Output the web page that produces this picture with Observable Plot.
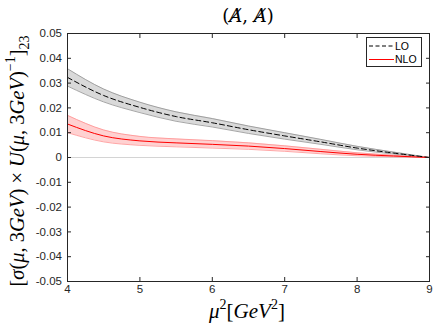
<!DOCTYPE html>
<html>
<head>
<meta charset="utf-8">
<script src="https://cdn.jsdelivr.net/npm/d3@7"></script>
<script src="https://cdn.jsdelivr.net/npm/@observablehq/plot@0.6"></script>
<style>
  html, body { margin: 0; padding: 0; background: #fff; }
  #chart { width: 436px; height: 327px; }
</style>
</head>
<body>
<div id="chart"></div>
<script>
// ---- data ----
const mu2    = [4, 4.5, 5, 5.5, 6, 6.5, 7, 7.5, 8, 8.5, 9];
const lo     = [0.0323, 0.0250, 0.0202, 0.0165, 0.0140, 0.0112, 0.0087, 0.0063, 0.0038, 0.0018, 0];
const loErr  = [0.0035, 0.0026, 0.0021, 0.0019, 0.0017, 0.0015, 0.0013, 0.0010, 0.0007, 0.0004, 0];
const nlo    = [0.0135, 0.0087, 0.0067, 0.0059, 0.0053, 0.0046, 0.0036, 0.0024, 0.0013, 0.0006, 0];
const nloErr = [0.0035, 0.0024, 0.0018, 0.0016, 0.0015, 0.0013, 0.0011, 0.0009, 0.0006, 0.0003, 0];
const xTicks = [4, 5, 6, 7, 8, 9];
const xTickLabels = ["4", "5", "6", "7", "8", "9"];
const yTicks = [-0.05, -0.04, -0.03, -0.02, -0.01, 0, 0.01, 0.02, 0.03, 0.04, 0.05];
const yTickLabels = ["-0.05", "-0.04", "-0.03", "-0.02", "-0.01", "0", "0.01", "0.02", "0.03", "0.04", "0.05"];
const legendLabels = ["LO", "NLO"];

const rows = mu2.map((x, i) => ({
  x,
  lo: lo[i], loLo: lo[i] - loErr[i], loHi: lo[i] + loErr[i],
  nlo: nlo[i], nloLo: nlo[i] - nloErr[i], nloHi: nlo[i] + nloErr[i]
}));

const curve = "monotone-x";
const yFmt = d => yTickLabels[yTicks.findIndex(t => Math.abs(t - d) < 1e-9)];
const xFmt = d => xTickLabels[xTicks.findIndex(t => Math.abs(t - d) < 1e-9)];

const svg = Plot.plot({
  width: 436,
  height: 327,
  marginLeft: 67,
  marginRight: 7,
  marginTop: 33,
  marginBottom: 46,
  x: { domain: [4, 9] },
  y: { domain: [-0.05, 0.05] },
  style: { fontFamily: "'Liberation Sans', Arial, sans-serif", fontSize: "11.5px", color: "#262626", background: "#fff" },
  marks: [
    Plot.ruleY([0], { stroke: "#d4d4d4", strokeWidth: 1 }),
    Plot.areaY(rows, { x: "x", y1: "loLo", y2: "loHi", fill: "#d9d9d9", curve }),
    Plot.lineY(rows, { x: "x", y: "loLo", stroke: "#8f8f8f", strokeWidth: 0.8, curve }),
    Plot.lineY(rows, { x: "x", y: "loHi", stroke: "#8f8f8f", strokeWidth: 0.8, curve }),
    Plot.areaY(rows, { x: "x", y1: "nloLo", y2: "nloHi", fill: "#ffd1d1", curve }),
    Plot.lineY(rows, { x: "x", y: "nloLo", stroke: "#ff8f8f", strokeWidth: 0.8, curve }),
    Plot.lineY(rows, { x: "x", y: "nloHi", stroke: "#ff8f8f", strokeWidth: 0.8, curve }),
    Plot.lineY(rows, { x: "x", y: "nlo", stroke: "#ff0000", strokeWidth: 1, curve }),
    Plot.lineY(rows, { x: "x", y: "lo", stroke: "#000", strokeWidth: 1, strokeDasharray: "5,3", curve }),
    Plot.frame({ stroke: "#262626" }),
    Plot.axisX({ anchor: "bottom", ticks: xTicks, tickSize: -4, tickPadding: 7, tickFormat: xFmt, label: null }),
    Plot.axisX({ anchor: "top", ticks: xTicks, tickSize: -4, tickFormat: () => "", label: null }),
    Plot.axisY({ anchor: "left", ticks: yTicks, tickSize: -4, tickPadding: 9.5, tickFormat: yFmt, label: null }),
    Plot.axisY({ anchor: "right", ticks: yTicks, tickSize: -4, tickFormat: () => "", label: null })
  ]
});

document.getElementById("chart").appendChild(svg);
const s = d3.select(svg);
const serif = "'Liberation Serif', 'DejaVu Serif', serif";

// Title: slashed italic A (Feynman slash) via combining long solidus overlay
s.append("text")
  .attr("x", 248).attr("y", 22)
  .attr("text-anchor", "middle")
  .attr("font-family", serif).attr("font-size", 18).attr("fill", "#000")
  .text("(\uD835\uDC34\u0338, \uD835\uDC34\u0338)")
  .attr("font-family", "'DejaVu Serif', 'Liberation Serif', serif");

// X label
s.append("text")
  .attr("x", 247).attr("y", 318)
  .attr("text-anchor", "middle")
  .attr("font-family", serif).attr("font-size", 21).attr("fill", "#000")
  .call(t => {
    t.append("tspan").attr("font-style", "italic").text("μ");
    t.append("tspan").attr("font-size", 14).attr("dy", -9).text("2");
    t.append("tspan").attr("dy", 9).text("[");
    t.append("tspan").attr("font-style", "italic").text("GeV");
    t.append("tspan").attr("font-size", 14).attr("dy", -9).text("2");
    t.append("tspan").attr("dy", 9).text("]");
  });

// Y label
s.append("text")
  .attr("transform", "translate(24,161) rotate(-90)")
  .attr("text-anchor", "middle")
  .attr("font-family", serif).attr("font-size", 20.5).attr("fill", "#000")
  .call(t => {
    t.append("tspan").text("[");
    t.append("tspan").attr("font-style", "italic").text("σ");
    t.append("tspan").text("(");
    t.append("tspan").attr("font-style", "italic").text("μ");
    t.append("tspan").text(", 3");
    t.append("tspan").attr("font-style", "italic").text("GeV");
    t.append("tspan").text(") × ");
    t.append("tspan").attr("font-style", "italic").text("U");
    t.append("tspan").text("(");
    t.append("tspan").attr("font-style", "italic").text("μ");
    t.append("tspan").text(", 3");
    t.append("tspan").attr("font-style", "italic").text("GeV");
    t.append("tspan").text(")");
    t.append("tspan").attr("font-size", 14).attr("dy", -9).text("−1");
    t.append("tspan").attr("dy", 9).text("]");
    t.append("tspan").attr("font-size", 14).attr("dy", 5).text("23");
  });

// Legend
const lg = s.append("g");
lg.append("rect").attr("x", 366.5).attr("y", 37.5).attr("width", 55).attr("height", 29)
  .attr("fill", "#fff").attr("stroke", "#262626").attr("stroke-width", 1);
const legendStyles = [
  { stroke: "#000", dash: "4,2.5", y: 46 },
  { stroke: "#ff0000", dash: null, y: 59.5 }
];
legendLabels.forEach((lab, i) => {
  const st = legendStyles[i];
  lg.append("line").attr("x1", 369).attr("x2", 394).attr("y1", st.y).attr("y2", st.y)
    .attr("stroke", st.stroke).attr("stroke-width", 1)
    .attr("stroke-dasharray", st.dash);
  lg.append("text").attr("x", 395).attr("y", st.y).attr("dy", "0.35em")
    .attr("text-anchor", "start")
    .attr("font-family", "'Liberation Sans', Arial, sans-serif").attr("font-size", 10.5)
    .attr("fill", "#000").text(lab);
});
</script>
</body>
</html>
